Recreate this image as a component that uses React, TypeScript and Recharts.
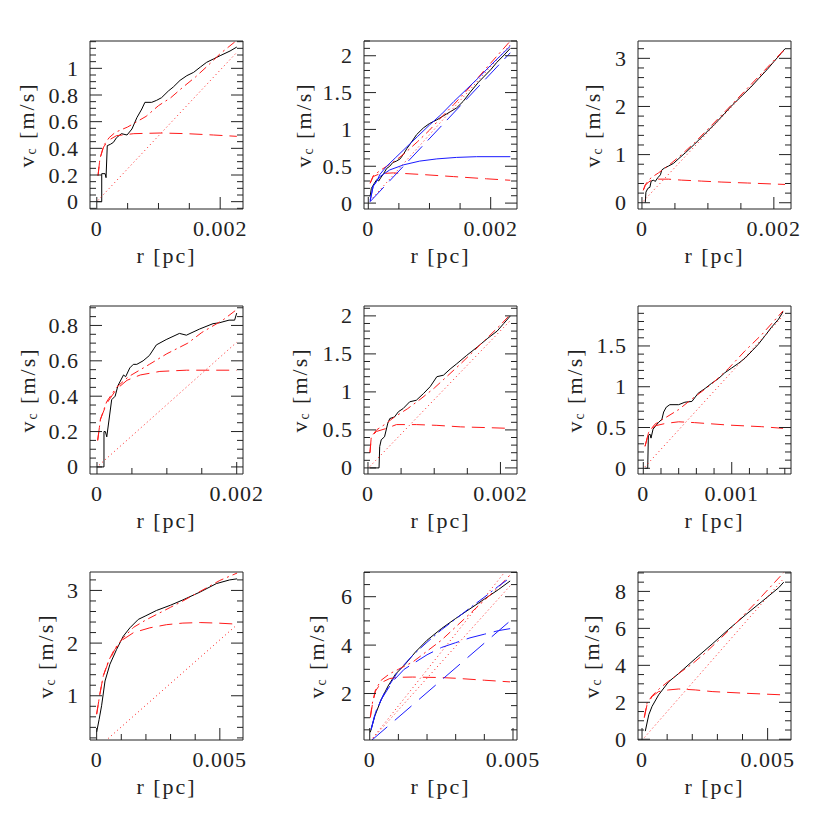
import React from "react";
import { LineChart, Line, XAxis, YAxis } from "recharts";

type Pt = [number, number];

const FONT = "'Liberation Serif', 'DejaVu Serif', serif";
const INK = "#222";
const RED = "#ff1a1a";
const BLUE = "#1a1aff";

// line styles
const SOLID = "";
const DASHED = "13 7";
const DOTTED = "1 3";
const DASH_DOT = "9 4 2 4";
const LONG_DASH = "20 8";

// panel geometry (frame of each plot box)
const PLOT_W = 153;
const PLOT_H = 168;
const LEFT_SPACE = 90;
const BOTTOM_SPACE = 70;
const PAD = 10;
const RIGHT_SPACE = 40;
const COLS = [90, 364, 638];
const ROWS = [41, 306, 572];

// ---- panel 1 ----
const p1Data: Pt[] = [[0, 0], [0.00008, 0], [0.00008, 0.21], [0.000135, 0.21], [0.00015, 0.18], [0.00017, 0.42], [0.00022, 0.43], [0.00027, 0.445], [0.00032, 0.48], [0.0004, 0.51], [0.00049, 0.5], [0.00057, 0.545], [0.00065, 0.63], [0.00073, 0.695], [0.00078, 0.745], [0.00089, 0.745], [0.00097, 0.76], [0.00105, 0.78], [0.00116, 0.83], [0.00124, 0.86], [0.00135, 0.91], [0.00146, 0.945], [0.00157, 0.97], [0.00168, 1.01], [0.00178, 1.045], [0.00189, 1.07], [0.002, 1.095], [0.00216, 1.13], [0.00227, 1.16]];
const p1Plateau: Pt[] = [[0.00002, 0.195], [0.00005, 0.32], [0.00011, 0.41], [0.00019, 0.46], [0.00032, 0.495], [0.0006, 0.51], [0.00103, 0.515], [0.00146, 0.51], [0.00189, 0.5], [0.00227, 0.49]];
const p1Linear: Pt[] = [[0.00002, 0.01], [0.00227, 1.12]];
const p1Total: Pt[] = [[0.00002, 0.195], [0.00005, 0.32], [0.00011, 0.42], [0.0002, 0.48], [0.0003, 0.52], [0.0005, 0.56], [0.0008, 0.64], [0.001, 0.72], [0.0012, 0.78], [0.0014, 0.86], [0.0016, 0.935], [0.0018, 1.02], [0.002, 1.11], [0.00227, 1.21]];

// ---- panel 2 ----
const p2Data: Pt[] = [[0.00003, 0.09], [0.00005, 0.2], [0.0001, 0.27], [0.00014, 0.32], [0.00017, 0.3], [0.0002, 0.34], [0.00025, 0.4], [0.0003, 0.47], [0.00035, 0.5], [0.0004, 0.55], [0.00046, 0.57], [0.00052, 0.6], [0.00058, 0.67], [0.00063, 0.74], [0.0007, 0.82], [0.00079, 0.93], [0.0009, 1.02], [0.001, 1.08], [0.00112, 1.13], [0.00128, 1.21], [0.00144, 1.29], [0.00155, 1.38], [0.00166, 1.5], [0.0018, 1.64], [0.002, 1.81], [0.0021, 1.91], [0.00222, 2.01], [0.00232, 2.1]];
const p2Plateau: Pt[] = [[0.00003, 0.27], [0.00008, 0.36], [0.00019, 0.4], [0.00041, 0.41], [0.00084, 0.39], [0.00139, 0.36], [0.00193, 0.33], [0.00232, 0.31]];
const p2Linear: Pt[] = [[0.00003, 0.03], [0.00232, 2.15]];
const p2Total: Pt[] = [[0.00003, 0.27], [0.00008, 0.37], [0.00019, 0.44], [0.0003, 0.5], [0.00045, 0.58], [0.0006, 0.68], [0.0008, 0.83], [0.001, 0.99], [0.0012, 1.17], [0.0014, 1.34], [0.0016, 1.52], [0.0018, 1.71], [0.002, 1.9], [0.00232, 2.2]];
const p2BluePlateau: Pt[] = [[0.00003, 0.02], [0.00008, 0.23], [0.00019, 0.36], [0.00035, 0.45], [0.00058, 0.52], [0.00084, 0.57], [0.00112, 0.6], [0.00144, 0.62], [0.00177, 0.63], [0.00232, 0.63]];
const p2BlueLinear: Pt[] = [[0.00003, 0.02], [0.00232, 2.04]];
const p2BlueTotal: Pt[] = [[0.00003, 0.04], [0.00008, 0.23], [0.00014, 0.3], [0.00019, 0.39], [0.0003, 0.5], [0.00045, 0.62], [0.0006, 0.74], [0.0008, 0.9], [0.001, 1.06], [0.0012, 1.21], [0.0014, 1.38], [0.0016, 1.54], [0.0018, 1.7], [0.002, 1.87], [0.00232, 2.13]];

// ---- panel 3 ----
const p3Data: Pt[] = [[0.00005, 0], [0.00006, 0.22], [0.00009, 0.3], [0.00012, 0.32], [0.00014, 0.45], [0.00018, 0.47], [0.0002, 0.44], [0.00024, 0.52], [0.00028, 0.58], [0.0003, 0.68], [0.00034, 0.72], [0.0004, 0.76], [0.00048, 0.82], [0.00056, 0.92], [0.00066, 1.04], [0.0008, 1.22], [0.00096, 1.44], [0.0011, 1.63], [0.00125, 1.85], [0.00137, 2.03], [0.0015, 2.2], [0.00165, 2.4], [0.00177, 2.58], [0.0019, 2.77], [0.002, 2.93], [0.00217, 3.2]];
const p3Plateau: Pt[] = [[0.00002, 0.26], [0.00005, 0.36], [0.0001, 0.43], [0.00015, 0.47], [0.00025, 0.49], [0.0004, 0.49], [0.0006, 0.47], [0.0009, 0.45], [0.0012, 0.43], [0.0016, 0.41], [0.00217, 0.38]];
const p3Linear: Pt[] = [[0.00002, 0.03], [0.00217, 3.18]];
const p3Total: Pt[] = [[0.00002, 0.26], [0.00005, 0.37], [0.0001, 0.47], [0.00015, 0.53], [0.00025, 0.62], [0.0004, 0.77], [0.0006, 1.0], [0.0008, 1.25], [0.001, 1.53], [0.0013, 1.95], [0.0016, 2.38], [0.0019, 2.81], [0.00217, 3.2]];

// ---- panel 4 ----
const p4Data: Pt[] = [[0, 0], [0.0001, 0], [0.0001, 0.2], [0.00012, 0.2], [0.00014, 0.17], [0.00021, 0.38], [0.00026, 0.4], [0.0003, 0.46], [0.00038, 0.52], [0.00041, 0.51], [0.00047, 0.56], [0.00052, 0.58], [0.00057, 0.58], [0.00066, 0.6], [0.00075, 0.63], [0.00085, 0.69], [0.00099, 0.72], [0.00118, 0.755], [0.00128, 0.745], [0.00147, 0.78], [0.00166, 0.81], [0.00175, 0.815], [0.00189, 0.83], [0.00197, 0.83], [0.002, 0.87]];
const p4Plateau: Pt[] = [[0.00001, 0.15], [0.00005, 0.27], [0.00014, 0.36], [0.00028, 0.44], [0.00043, 0.49], [0.00062, 0.52], [0.0009, 0.54], [0.00128, 0.547], [0.002, 0.547]];
const p4Linear: Pt[] = [[0.00003, 0.01], [0.002, 0.705]];
const p4Total: Pt[] = [[0.00001, 0.15], [0.00005, 0.27], [0.00014, 0.37], [0.00028, 0.45], [0.00045, 0.51], [0.00075, 0.58], [0.001, 0.64], [0.0013, 0.7], [0.0015, 0.76], [0.0018, 0.83], [0.002, 0.89]];

// ---- panel 5 ----
const p5Data: Pt[] = [[0.000025, 0], [0.000167, 0], [0.000177, 0.28], [0.0002, 0.37], [0.00025, 0.41], [0.0003, 0.59], [0.00033, 0.65], [0.0004, 0.67], [0.00046, 0.74], [0.00053, 0.78], [0.00063, 0.87], [0.00073, 0.89], [0.00084, 0.98], [0.00094, 1.07], [0.00104, 1.2], [0.00114, 1.22], [0.00124, 1.3], [0.00134, 1.37], [0.00149, 1.48], [0.00165, 1.59], [0.0018, 1.7], [0.00195, 1.8], [0.00205, 1.9], [0.00215, 2.0]];
const p5Plateau: Pt[] = [[0.00003, 0.2], [0.00005, 0.41], [0.00013, 0.48], [0.00028, 0.52], [0.00043, 0.57], [0.00073, 0.57], [0.00104, 0.56], [0.0014, 0.54], [0.0018, 0.53], [0.00215, 0.52]];
const p5Linear: Pt[] = [[0.00003, 0.02], [0.00215, 1.94]];
const p5Total: Pt[] = [[0.00003, 0.2], [0.00005, 0.41], [0.00013, 0.5], [0.00025, 0.57], [0.0004, 0.67], [0.0006, 0.78], [0.0008, 0.91], [0.001, 1.05], [0.0012, 1.21], [0.0014, 1.37], [0.0016, 1.54], [0.0018, 1.71], [0.002, 1.88], [0.00215, 2.02]];

// ---- panel 6 ----
const p6Data: Pt[] = [[0.00002, 0], [0.00005, 0], [0.000057, 0.4], [0.000075, 0.42], [0.000087, 0.37], [0.00011, 0.48], [0.00017, 0.56], [0.00021, 0.6], [0.00023, 0.69], [0.00026, 0.75], [0.0003, 0.78], [0.0004, 0.78], [0.00047, 0.81], [0.00055, 0.82], [0.00062, 0.92], [0.0007, 0.98], [0.00077, 1.04], [0.00085, 1.1], [0.00092, 1.17], [0.001, 1.23], [0.00108, 1.29], [0.00115, 1.35], [0.00123, 1.44], [0.0013, 1.52], [0.00138, 1.63], [0.00145, 1.73], [0.00153, 1.83], [0.00158, 1.92]];
const p6Plateau: Pt[] = [[0.00002, 0.27], [0.00006, 0.44], [0.00013, 0.52], [0.00025, 0.55], [0.0004, 0.57], [0.00058, 0.56], [0.00096, 0.53], [0.00134, 0.51], [0.00158, 0.49]];
const p6Linear: Pt[] = [[0.00002, 0.02], [0.00158, 1.87]];
const p6Total: Pt[] = [[0.00002, 0.27], [0.00006, 0.44], [0.00013, 0.54], [0.00025, 0.62], [0.0004, 0.72], [0.00055, 0.85], [0.00077, 1.03], [0.00096, 1.22], [0.00115, 1.44], [0.00134, 1.64], [0.00158, 1.93]];

// ---- panel 7 ----
const p7Data: Pt[] = [[0, 0.31], [0.0001, 0.55], [0.0002, 0.81], [0.00034, 1.28], [0.00054, 1.6], [0.00081, 1.88], [0.00108, 2.13], [0.00135, 2.29], [0.00169, 2.45], [0.002, 2.52], [0.00243, 2.62], [0.003, 2.72], [0.0035, 2.82], [0.0042, 2.97], [0.00486, 3.13], [0.0054, 3.2], [0.0057, 3.22]];
const p7Plateau: Pt[] = [[0, 0.65], [0.00013, 1.03], [0.00027, 1.38], [0.00047, 1.63], [0.00074, 1.88], [0.00108, 2.07], [0.0015, 2.2], [0.00216, 2.29], [0.00284, 2.35], [0.0035, 2.38], [0.0042, 2.39], [0.0049, 2.38], [0.0057, 2.36]];
const p7Linear: Pt[] = [[0.00035, 0.14], [0.0057, 2.35]];
const p7Total: Pt[] = [[0, 0.65], [0.00013, 1.03], [0.00027, 1.38], [0.00047, 1.65], [0.00074, 1.9], [0.00108, 2.1], [0.0015, 2.3], [0.002, 2.44], [0.0025, 2.56], [0.003, 2.68], [0.0035, 2.8], [0.004, 2.93], [0.0045, 3.06], [0.005, 3.19], [0.0057, 3.33]];

// ---- panel 8 ----
const p8Data: Pt[] = [[0.00002, 0.4], [0.00018, 1.08], [0.0004, 1.75], [0.00064, 2.31], [0.0009, 2.8], [0.00123, 3.2], [0.0016, 3.72], [0.002, 4.2], [0.0025, 4.68], [0.003, 5.1], [0.0035, 5.5], [0.004, 5.9], [0.0045, 6.3], [0.0049, 6.65]];
const p8Plateau: Pt[] = [[0.00002, 1.0], [0.0001, 1.6], [0.0002, 2.1], [0.0004, 2.45], [0.0007, 2.62], [0.001, 2.67], [0.0015, 2.68], [0.002, 2.67], [0.0025, 2.66], [0.003, 2.63], [0.004, 2.55], [0.0049, 2.48]];
const p8Linear: Pt[] = [[0.00002, 0.03], [0.0047, 7.0]];
const p8Linear2: Pt[] = [[0.00002, 0.03], [0.0049, 6.45]];
const p8Total: Pt[] = [[0.00002, 1.05], [0.0001, 1.65], [0.0002, 2.15], [0.0004, 2.55], [0.0007, 2.82], [0.001, 3.0], [0.0015, 3.3], [0.002, 3.75], [0.0025, 4.2], [0.003, 4.75], [0.0035, 5.3], [0.004, 5.85], [0.0045, 6.4], [0.0049, 6.9]];
const p8BluePlateau: Pt[] = [[0.00005, 0.5], [0.0002, 1.2], [0.0004, 1.75], [0.0008, 2.5], [0.0012, 3.0], [0.0016, 3.3], [0.002, 3.6], [0.0025, 3.9], [0.003, 4.1], [0.0035, 4.3], [0.004, 4.45], [0.0045, 4.6], [0.0049, 4.68]];
const p8BlueLinear: Pt[] = [[0.00003, 0.03], [0.0049, 5.0]];
const p8BlueTotal: Pt[] = [[0.00005, 0.55], [0.0002, 1.22], [0.0005, 2.0], [0.001, 2.93], [0.0015, 3.58], [0.002, 4.12], [0.0025, 4.63], [0.003, 5.08], [0.0035, 5.54], [0.004, 5.98], [0.0045, 6.44], [0.0049, 6.78]];

// ---- panel 9 ----
const p9Data: Pt[] = [[0.00013, 0.44], [0.00027, 1.33], [0.0004, 1.78], [0.00066, 2.4], [0.00106, 3.11], [0.00146, 3.56], [0.00212, 4.36], [0.00279, 5.15], [0.00345, 5.95], [0.00411, 6.72], [0.00477, 7.45], [0.00544, 8.2], [0.00564, 8.5]];
const p9Plateau: Pt[] = [[0.00009, 1.16], [0.0002, 1.87], [0.0004, 2.31], [0.00066, 2.58], [0.00106, 2.67], [0.00146, 2.72], [0.00212, 2.67], [0.00279, 2.58], [0.0041, 2.49], [0.00564, 2.4]];
const p9Linear: Pt[] = [[0.0001, 0.1], [0.00564, 8.7]];
const p9Total: Pt[] = [[0.00009, 1.2], [0.0002, 1.95], [0.0004, 2.35], [0.0007, 2.75], [0.001, 3.08], [0.0015, 3.6], [0.002, 4.08], [0.0025, 4.65], [0.003, 5.29], [0.0035, 5.95], [0.004, 6.65], [0.0045, 7.35], [0.005, 8.08], [0.00564, 9.02]];

// labelled (major) ticks
const xMajor002 = [0, 0.002];
const xMajor001 = [0, 0.001];
const xMajor005 = [0, 0.005];
const yMajorA = [0, 0.2, 0.4, 0.6, 0.8, 1];
const yMajorB = [0, 0.5, 1, 1.5, 2];
const yMajorC = [0, 1, 2, 3];
const yMajorD = [0, 0.2, 0.4, 0.6, 0.8];
const yMajorE = [0, 0.5, 1, 1.5];
const yMajorF = [1, 2, 3];
const yMajorG = [2, 4, 6];
const yMajorH = [0, 2, 4, 6, 8];

type Series = { pts: Pt[]; color: string; dash: string };
type PanelDef = {
  xDomain: [number, number];
  yDomain: [number, number];
  xMajor: number[];
  xStep: number;
  yMajor: number[];
  yStep: number;
  labelDx: number;
  series: Series[];
};

const redSet = (data: Pt[], plateau: Pt[], linear: Pt[], total: Pt[]): Series[] => [
  { pts: data, color: "#000", dash: SOLID },
  { pts: plateau, color: RED, dash: DASHED },
  { pts: linear, color: RED, dash: DOTTED },
  { pts: total, color: RED, dash: DASH_DOT },
];

const panels: PanelDef[] = [
  { xDomain: [-0.00011, 0.00237], yDomain: [-0.055, 1.205], xMajor: xMajor002, xStep: 0.0005, yMajor: yMajorA, yStep: 0.05, labelDx: -64, series: redSet(p1Data, p1Plateau, p1Linear, p1Total) },
  {
    xDomain: [-0.00007, 0.00243], yDomain: [-0.08, 2.2], xMajor: xMajor002, xStep: 0.0005, yMajor: yMajorB, yStep: 0.1, labelDx: -61,
    series: [
      ...redSet(p2Data, p2Plateau, p2Linear, p2Total),
      { pts: p2BluePlateau, color: BLUE, dash: SOLID },
      { pts: p2BlueLinear, color: BLUE, dash: LONG_DASH },
      { pts: p2BlueTotal, color: BLUE, dash: SOLID },
    ],
  },
  { xDomain: [-0.00006, 0.00226], yDomain: [-0.13, 3.36], xMajor: xMajor002, xStep: 0.0005, yMajor: yMajorC, yStep: 0.2, labelDx: -46, series: redSet(p3Data, p3Plateau, p3Linear, p3Total) },
  { xDomain: [-0.0001, 0.00209], yDomain: [-0.04, 0.91], xMajor: xMajor002, xStep: 0.0005, yMajor: yMajorD, yStep: 0.05, labelDx: -63, series: redSet(p4Data, p4Plateau, p4Linear, p4Total) },
  { xDomain: [-0.00006, 0.00225], yDomain: [-0.08, 2.13], xMajor: xMajor002, xStep: 0.0005, yMajor: yMajorB, yStep: 0.1, labelDx: -65, series: redSet(p5Data, p5Plateau, p5Linear, p5Total) },
  { xDomain: [-0.00006, 0.00167], yDomain: [-0.07, 1.99], xMajor: xMajor001, xStep: 0.0002, yMajor: yMajorE, yStep: 0.1, labelDx: -64, series: redSet(p6Data, p6Plateau, p6Linear, p6Total) },
  { xDomain: [-0.00027, 0.00594], yDomain: [0.16, 3.35], xMajor: xMajor005, xStep: 0.001, yMajor: yMajorF, yStep: 0.2, labelDx: -45, series: redSet(p7Data, p7Plateau, p7Linear, p7Total) },
  {
    xDomain: [-0.0002, 0.00514], yDomain: [0.08, 7.02], xMajor: xMajor005, xStep: 0.001, yMajor: yMajorG, yStep: 0.5, labelDx: -48,
    series: [
      ...redSet(p8Data, p8Plateau, p8Linear, p8Total),
      { pts: p8Linear2, color: RED, dash: DOTTED },
      { pts: p8BluePlateau, color: BLUE, dash: LONG_DASH },
      { pts: p8BlueLinear, color: BLUE, dash: "22 10" },
      { pts: p8BlueTotal, color: BLUE, dash: "14 4 2 4" },
    ],
  },
  { xDomain: [-0.00016, 0.00593], yDomain: [-0.04, 9.05], xMajor: xMajor005, xStep: 0.001, yMajor: yMajorH, yStep: 0.5, labelDx: -47, series: redSet(p9Data, p9Plateau, p9Linear, p9Total) },
];

// every tick mark position (minor spacing) inside a domain
function tickMarks(domain: [number, number], step: number): number[] {
  const out: number[] = [];
  const k0 = Math.ceil(domain[0] / step - 1e-9);
  const k1 = Math.floor(domain[1] / step + 1e-9);
  for (let k = k0; k <= k1; k++) out.push(Number((k * step).toFixed(10)));
  return out;
}

const isMajor = (list: number[], v: number) => list.some((m) => Math.abs(m - v) < 1e-9);

const textStyle = { fontFamily: FONT, fontSize: 22, fill: INK, letterSpacing: 1 };

function makeTick(side: "left" | "right" | "top" | "bottom", major: number[]) {
  return (props: any) => {
    const { x, y, payload } = props;
    const v = payload.value;
    const big = isMajor(major, v);
    const len = big ? 12 : 6;
    let x2 = x;
    let y2 = y;
    if (side === "left") x2 = x + len;
    if (side === "right") x2 = x - len;
    if (side === "top") y2 = y + len;
    if (side === "bottom") y2 = y - len;
    return (
      <g>
        <line x1={x} y1={y} x2={x2} y2={y2} stroke={INK} strokeWidth={1} />
        {big && side === "left" && (
          <text x={x - 11} y={y} textAnchor="end" dominantBaseline="central" {...textStyle}>
            {String(v)}
          </text>
        )}
        {big && side === "bottom" && (
          <text x={x} y={y + 19} textAnchor="middle" dominantBaseline="central" {...textStyle}>
            {String(v)}
          </text>
        )}
      </g>
    );
  };
}

const xLabel = (props: any) => {
  const vb = props.viewBox;
  return (
    <text x={vb.x + vb.width / 2} y={vb.y + 46} textAnchor="middle" dominantBaseline="central" {...textStyle} letterSpacing={2}>
      r [pc]
    </text>
  );
};

const yLabel = (dx: number) => (props: any) => {
  const vb = props.viewBox;
  const cx = vb.x + vb.width + dx;
  const cy = vb.y + vb.height / 2;
  return (
    <text x={cx} y={cy} transform={`rotate(-90 ${cx} ${cy})`} textAnchor="middle" dominantBaseline="central" {...textStyle} letterSpacing={2}>
      v<tspan fontSize={14} dy={5}>c</tspan>
      <tspan dy={-5}> [m/s]</tspan>
    </text>
  );
};

function Panel({ def, left, top }: { def: PanelDef; left: number; top: number }) {
  const xTicks = tickMarks(def.xDomain, def.xStep);
  const yTicks = tickMarks(def.yDomain, def.yStep);
  const axisCommon = {
    type: "number" as const,
    allowDataOverflow: true,
    interval: 0,
    tickSize: 0,
    tickMargin: 0,
    tickLine: false,
    axisLine: { stroke: INK, strokeWidth: 1 },
  };
  return (
    <div style={{ position: "absolute", left: left - LEFT_SPACE, top: top - PAD }}>
      <LineChart
        width={LEFT_SPACE + PLOT_W + RIGHT_SPACE}
        height={PAD + PLOT_H + BOTTOM_SPACE}
        margin={{ top: PAD, right: RIGHT_SPACE, bottom: 0, left: 0 }}
      >
        <XAxis {...axisCommon} xAxisId="b" dataKey="r" domain={def.xDomain} ticks={xTicks} height={BOTTOM_SPACE} tick={makeTick("bottom", def.xMajor)} label={xLabel} />
        <XAxis {...axisCommon} xAxisId="t" orientation="top" mirror domain={def.xDomain} ticks={xTicks} tick={makeTick("top", def.xMajor)} />
        <YAxis {...axisCommon} yAxisId="l" domain={def.yDomain} ticks={yTicks} width={LEFT_SPACE} tick={makeTick("left", def.yMajor)} label={yLabel(def.labelDx)} />
        <YAxis {...axisCommon} yAxisId="r" orientation="right" mirror domain={def.yDomain} ticks={yTicks} tick={makeTick("right", def.yMajor)} />
        {def.series.map((s, i) => (
          <Line
            key={i}
            xAxisId="b"
            yAxisId="l"
            data={s.pts.map(([r, v]) => ({ r, v }))}
            dataKey="v"
            type="linear"
            stroke={s.color}
            strokeWidth={1}
            strokeDasharray={s.dash || undefined}
            dot={false}
            activeDot={false}
            isAnimationActive={false}
          />
        ))}
      </LineChart>
    </div>
  );
}

export default function App() {
  return (
    <div style={{ position: "absolute", left: 0, top: 0, width: 830, height: 830, background: "#fff" }}>
      {panels.map((def, i) => (
        <Panel key={i} def={def} left={COLS[i % 3]} top={ROWS[Math.floor(i / 3)]} />
      ))}
    </div>
  );
}
